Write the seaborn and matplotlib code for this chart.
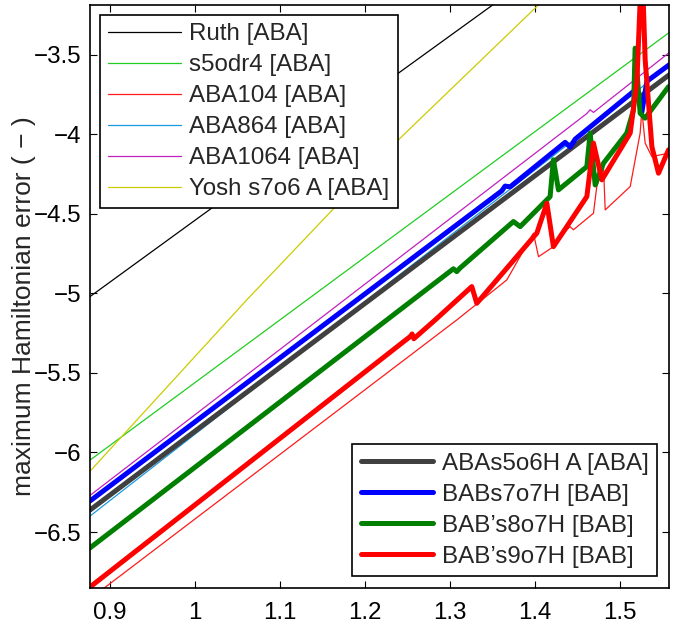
import numpy as np
import pandas as pd
import matplotlib
matplotlib.use("Agg")
import matplotlib.pyplot as plt
import seaborn as sns

# values (x = step size measure, y = max Hamiltonian error)
ruth_x = [0.8765, 1.0059, 1.5576]
ruth_y = [-5.02, -4.517, -2.384]

s5odr4_x = [0.8765, 1.5576]
s5odr4_y = [-6.048, -3.36]

aba104_x = [0.8765, 1.3078, 1.3667, 1.398, 1.404, 1.4215, 1.4373, 1.4412, 1.445,
            1.4686, 1.4725, 1.4804, 1.4824, 1.5118, 1.5235, 1.5255, 1.5294, 1.5373, 1.5569]
aba104_y = [-6.92, -5.167, -4.915, -4.621, -4.769, -4.706, -4.60, -4.58, -4.60,
            -4.496, -4.328, -4.203, -4.475, -4.328, -3.992, -3.846, -4.055, -4.14, -4.118]

aba864_x = [0.8765, 1.2, 1.5576]
aba864_y = [-6.40, -5.051, -3.57]

aba1064_x = [0.8765, 1.4608, 1.4647, 1.4686, 1.5576]
aba1064_y = [-6.27, -3.869, -3.845, -3.862, -3.486]

yosh_x = [0.8765, 1.0608, 1.161, 1.2412, 1.4039, 1.5576]
yosh_y = [-6.118, -5.041, -4.478, -4.024, -3.186, -2.40]

s5o6_x = [0.8765, 1.5576]
s5o6_y = [-6.362, -3.626]

s7o7_x = [0.8765, 1.3608, 1.3647, 1.3706, 1.4353, 1.4412, 1.4471, 1.5196, 1.5255, 1.5314, 1.5576]
s7o7_y = [-6.305, -4.355, -4.325, -4.33, -4.05, -4.08, -4.03, -3.713, -3.86, -3.666, -3.563]

s8o7_x = [0.8765, 1.3039, 1.3078, 1.3118, 1.3745, 1.3824, 1.4176, 1.4215, 1.4274,
          1.4608, 1.4647, 1.4706, 1.4804, 1.5078, 1.5157, 1.5176, 1.5235, 1.5294, 1.5569]
s8o7_y = [-6.60, -4.845, -4.863, -4.84, -4.548, -4.58, -4.391, -4.160, -4.349,
          -4.203, -3.992, -4.318, -4.181, -3.992, -3.846, -3.458, -3.867, -3.898, -3.70]

s9o7_x = [0.8765, 1.2533, 1.2553, 1.2573, 1.2824, 1.3255, 1.3314, 1.402, 1.4138,
          1.4215, 1.4608, 1.4686, 1.4785, 1.5118, 1.5196, 1.5255, 1.5294, 1.5373, 1.5451, 1.5569]
s9o7_y = [-6.846, -5.27, -5.255, -5.285, -5.167, -4.957, -5.062, -4.621, -4.433,
          -4.706, -4.391, -4.055, -4.286, -3.992, -3.678, -2.90, -3.531, -4.077, -4.244, -4.097]

thin_names = ["Ruth [ABA]", "s5odr4 [ABA]", "ABA104 [ABA]", "ABA864 [ABA]",
              "ABA1064 [ABA]", "Yosh s7o6 A [ABA]"]
thick_names = ["ABAs5o6H A [ABA]", "BABs7o7H [BAB]", "BAB\u2019s8o7H [BAB]", "BAB\u2019s9o7H [BAB]"]

xticks = [0.9, 1.0, 1.1, 1.2, 1.3, 1.4, 1.5]
xticklabels = ["0.9", "1", "1.1", "1.2", "1.3", "1.4", "1.5"]
yticks = [-6.5, -6.0, -5.5, -5.0, -4.5, -4.0, -3.5]
yticklabels = ["\u22126.5", "\u22126", "\u22125.5", "\u22125", "\u22124.5", "\u22124", "\u22123.5"]

sns.set_style("ticks")
plt.rcParams["font.family"] = ["Liberation Sans", "DejaVu Sans"]
plt.rcParams["font.size"] = 17.4

fig = plt.figure(figsize=(6.87, 6.29), dpi=100)
ax = fig.add_axes([0.131, 0.0652, 0.843, 0.927])

thin = [(ruth_x, ruth_y, "black"),
        (s5odr4_x, s5odr4_y, "#22cc22"),
        (aba104_x, aba104_y, "#ff1a1a"),
        (aba864_x, aba864_y, "#1a99dd"),
        (aba1064_x, aba1064_y, "#c020c0"),
        (yosh_x, yosh_y, "#cccc00")]
thick = [(s5o6_x, s5o6_y, "#404040"),
         (s7o7_x, s7o7_y, "#0000ff"),
         (s8o7_x, s8o7_y, "#007f00"),
         (s9o7_x, s9o7_y, "#ff0000")]

h_thin, h_thick = [], []
for (xs, ys, c), name in zip(thin, thin_names):
    df = pd.DataFrame({"x": xs, "y": ys})
    sns.lineplot(data=df, x="x", y="y", ax=ax, color=c, linewidth=0.9,
                 sort=False, estimator=None, legend=False)
    h_thin.append((ax.lines[-1], name))
for (xs, ys, c), name in zip(thick, thick_names):
    df = pd.DataFrame({"x": xs, "y": ys})
    sns.lineplot(data=df, x="x", y="y", ax=ax, color=c, linewidth=3.6,
                 sort=False, estimator=None, legend=False)
    h_thick.append((ax.lines[-1], name))

ax.set_xlim(0.8765, 1.5576)
ax.set_ylim(-6.852, -3.186)
ax.set_xticks(xticks)
ax.set_xticklabels(xticklabels)
ax.set_yticks(yticks)
ax.set_yticklabels(yticklabels)
ax.tick_params(direction="in", length=5, width=0.8, top=True, right=True,
               labelsize=17.4, colors="black")
ax.tick_params(axis="x", pad=10)
ax.tick_params(axis="y", pad=6)
for sp in ax.spines.values():
    sp.set_linewidth(1.2)
    sp.set_color("black")
ax.set_xlabel("")
ax.set_ylabel("maximum Hamiltonian error ( \u2212 )", fontsize=19)
ax.yaxis.set_label_coords(-0.094, 0.483)

leg_kw = dict(frameon=True, fancybox=False, framealpha=1, edgecolor="black",
              fontsize=17.4, handlelength=3.0, handletextpad=0.35,
              labelspacing=0.37, borderaxespad=0, borderpad=0.35)
leg1 = ax.legend([h for h, _ in h_thin], [n for _, n in h_thin], loc="upper left",
                 bbox_to_anchor=(0.0173, 0.983), **leg_kw)
leg1.get_frame().set_linewidth(1.2)
ax.add_artist(leg1)
leg2 = ax.legend([h for h, _ in h_thick], [n for _, n in h_thick], loc="lower right",
                 bbox_to_anchor=(0.979, 0.0206), **leg_kw)
leg2.get_frame().set_linewidth(1.2)

fig.savefig("out.png", dpi=100)
